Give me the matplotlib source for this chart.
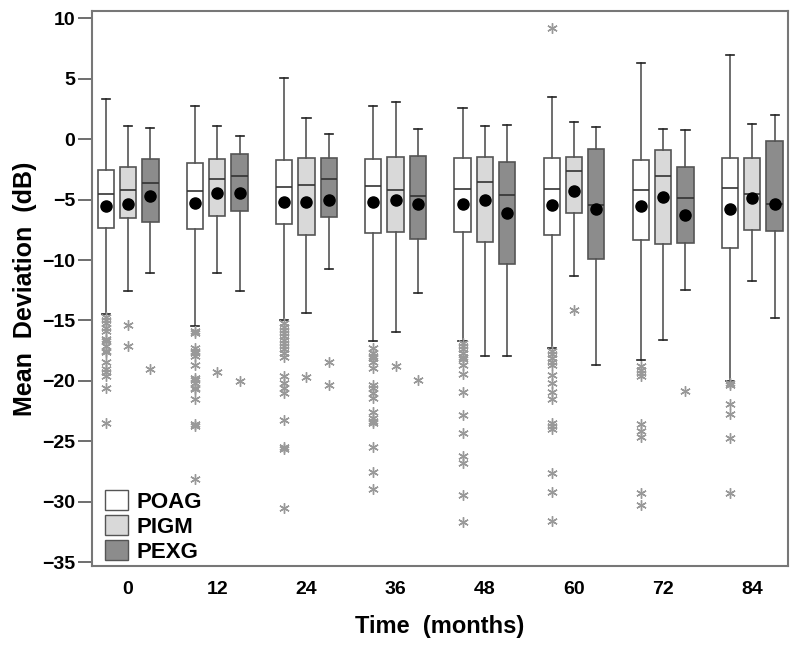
import numpy as np
import matplotlib
matplotlib.use("Agg")
import matplotlib.pyplot as plt
from matplotlib.patches import Patch

plt.rcParams['font.family'] = ['Liberation Sans', 'DejaVu Sans']
plt.rcParams['font.weight'] = 'bold'

months = [0, 12, 24, 36, 48, 60, 72, 84]
groups = ['POAG', 'PIGM', 'PEXG']
colors = ['#ffffff', '#d9d9d9', '#8c8c8c']

# per group: lists over months
whishi = {
    'POAG': [3.3, 2.7, 5.05, 2.7, 2.6, 3.5, 6.3, 7.0],
    'PIGM': [1.07, 1.07, 1.76, 3.05, 1.1, 1.4, 0.82, 1.24],
    'PEXG': [0.93, 0.3, 0.41, 0.8, 1.15, 1.04, 0.77, 2.03],
}
q3 = {
    'POAG': [-2.56, -2.0, -1.7, -1.65, -1.59, -1.59, -1.7, -1.54],
    'PIGM': [-2.34, -1.65, -1.59, -1.48, -1.46, -1.46, -0.93, -1.59],
    'PEXG': [-1.65, -1.24, -1.59, -1.37, -1.87, -0.85, -2.34, -0.19],
}
med = {
    'POAG': [-4.53, -4.3, -3.96, -3.9, -4.1, -4.15, -4.23, -4.04],
    'PIGM': [-4.18, -3.33, -3.76, -4.23, -3.52, -2.67, -3.08, -4.56],
    'PEXG': [-3.6, -3.08, -3.33, -4.73, -4.64, -5.44, -4.86, -5.36],
}
mean = {
    'POAG': [-5.5, -5.3, -5.17, -5.22, -5.36, -5.41, -5.52, -5.77],
    'PIGM': [-5.39, -4.45, -5.17, -5.0, -5.06, -4.29, -4.81, -4.84],
    'PEXG': [-4.73, -4.45, -5.0, -5.33, -6.1, -5.77, -6.24, -5.36],
}
q1 = {
    'POAG': [-7.36, -7.45, -7.03, -7.78, -7.67, -7.89, -8.33, -9.0],
    'PIGM': [-6.54, -6.35, -7.94, -7.67, -8.52, -6.07, -8.71, -7.53],
    'PEXG': [-6.87, -5.96, -6.4, -8.22, -10.36, -9.89, -8.6, -7.61],
}
whislo = {
    'POAG': [-14.45, -15.47, -15.0, -16.7, -16.7, -17.3, -18.25, -19.98],
    'PIGM': [-12.56, -11.1, -14.4, -15.94, -17.9, -11.3, -16.65, -11.73],
    'PEXG': [-11.05, -12.56, -10.74, -12.7, -17.9, -18.7, -12.5, -14.8],
}
fliers = {
    'POAG': [
        [-14.7, -14.95, -15.2, -15.6, -15.9, -16.5, -16.7, -17.1, -17.5, -17.6,
         -18.4, -19.0, -19.3, -19.6, -20.6, -23.5],
        [-15.9, -16.05, -17.3, -17.5, -17.7, -17.97, -18.66, -19.76, -19.9,
         -20.2, -20.6, -20.7, -21.5, -23.6, -23.74, -28.1],
        [-15.2, -15.5, -15.8, -16.05, -16.3, -16.6, -16.9, -17.15, -17.4,
         -17.7, -18.0, -19.6, -20.2, -20.6, -21.0, -23.2, -25.5, -25.6, -30.5],
        [-17.3, -17.7, -17.9, -18.1, -18.4, -18.9, -20.3, -20.6, -21.0, -21.4,
         -22.6, -23.1, -23.3, -23.5, -25.5, -27.5, -28.9],
        [-16.9, -17.15, -17.4, -17.7, -18.0, -18.2, -18.7, -19.4, -20.9,
         -22.8, -24.3, -26.2, -26.8, -29.4, -31.7],
        [9.23, -17.56, -17.8, -18.1, -18.4, -18.66, -19.5, -20.2, -20.9,
         -21.5, -23.5, -23.7, -24.0, -27.6, -29.2, -31.6],
        [-18.8, -19.07, -19.35, -19.6, -23.6, -24.15, -24.65, -29.3, -30.3],
        [-20.2, -20.36, -21.9, -22.7, -24.76, -29.3],
    ],
    'PIGM': [[-15.4, -17.1], [-19.27], [-19.7], [-18.8], [], [-14.1], [], []],
    'PEXG': [[-19.0], [-19.98], [-18.4, -20.3], [-19.9], [], [], [-20.86], []],
}

fig = plt.figure(figsize=(8.0, 6.46), dpi=100)
ax = fig.add_axes([0.115, 0.124, 0.87, 0.859])

for k, g in enumerate(groups):
    stats = []
    pos = []
    for i, m in enumerate(months):
        stats.append(dict(med=med[g][i], q1=q1[g][i], q3=q3[g][i],
                          whislo=whislo[g][i], whishi=whishi[g][i],
                          mean=mean[g][i], fliers=fliers[g][i]))
        pos.append(4 * i + k - 1)
    ax.bxp(stats, positions=pos, widths=0.73, patch_artist=True,
           showmeans=True, showcaps=True,
           boxprops=dict(facecolor=colors[k], edgecolor='#555555', linewidth=1.2),
           medianprops=dict(color='#333333', linewidth=1.2),
           whiskerprops=dict(color='#555555', linewidth=1.2),
           capprops=dict(color='#222222', linewidth=1.2),
           meanprops=dict(marker='o', markerfacecolor='black',
                          markeredgecolor='black', markersize=8),
           flierprops=dict(marker=(6, 2, 0), markeredgecolor='#999999',
                           markersize=7.5, markeredgewidth=1.0, linestyle='none'))

ax.set_xlim(-1.62, 29.6)
ax.set_ylim(-35.3, 10.6)
ax.set_yticks(np.arange(-35, 11, 5))
ax.set_xticks([4 * i for i in range(len(months))])
ax.set_xticklabels([str(m) for m in months])
ax.tick_params(axis='x', length=0, pad=11, labelsize=14)
ax.tick_params(axis='y', length=10, width=1.2, color='#555555', labelsize=14, pad=2)
for lab in ax.get_xticklabels() + ax.get_yticklabels():
    lab.set_fontweight('bold')
for s in ax.spines.values():
    s.set_color('#777777')
    s.set_linewidth(1.5)

ax.set_xlabel('Time  (months)', fontsize=17, fontweight='bold', labelpad=12)
ax.set_ylabel('Mean  Deviation  (dB)', fontsize=18, fontweight='bold', labelpad=4)

handles = [Patch(facecolor=c, edgecolor='#555555', linewidth=1.0) for c in colors]
leg = ax.legend(handles, groups, loc='lower left', frameon=False,
                bbox_to_anchor=(0.0, -0.018),
                prop=dict(size=16, weight='bold'), handlelength=1.0,
                handleheight=1.0, handletextpad=0.4, labelspacing=0.1,
                borderaxespad=0.2)

fig.savefig('out.png', dpi=100)
